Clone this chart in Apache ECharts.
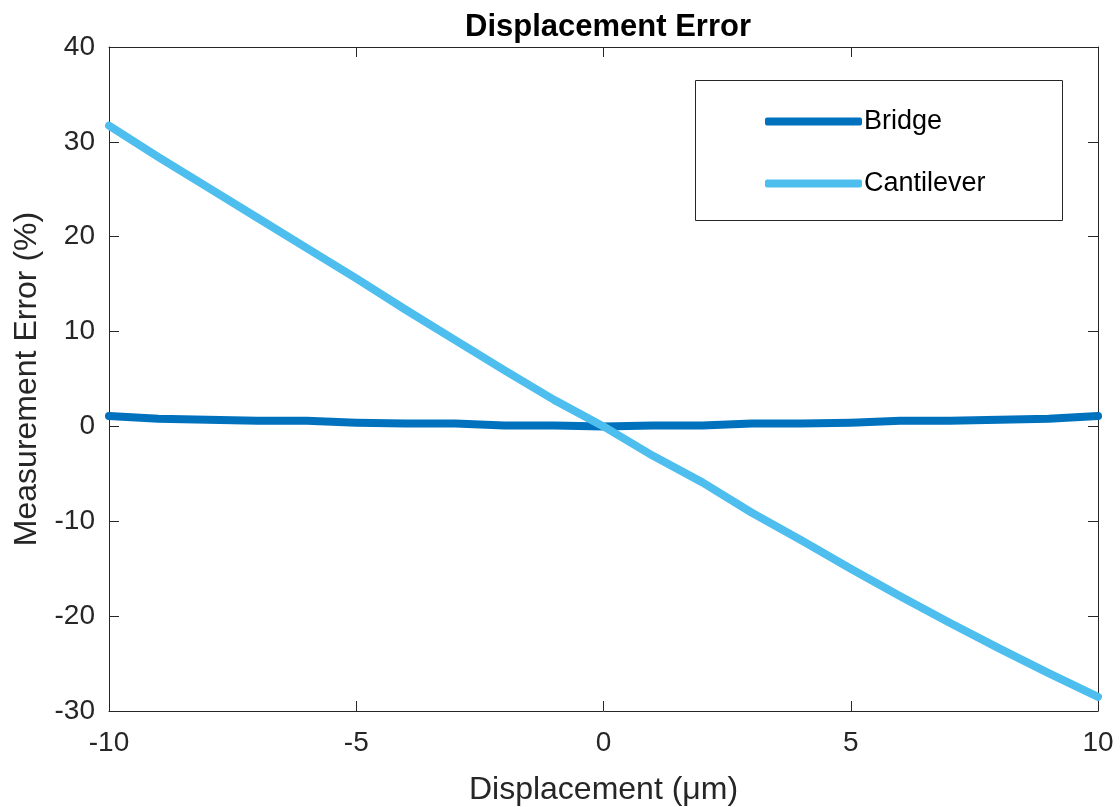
<!DOCTYPE html>
<html>
<head>
<meta charset="utf-8">
<script src="https://cdn.jsdelivr.net/npm/echarts@6/dist/echarts.min.js"></script>
<style>
  html, body { margin: 0; padding: 0; background: #fff; }
  #chart { width: 1120px; height: 807px; }
</style>
</head>
<body>
<div id="chart"></div>
<script>
// displacement steps (µm)
const displacement = [-10, -9, -8, -7, -6, -5, -4, -3, -2, -1, 0, 1, 2, 3, 4, 5, 6, 7, 8, 9, 10]
const bridgeError = [1.1, 0.8, 0.7, 0.6, 0.6, 0.4, 0.3, 0.3, 0.1, 0.1, 0, 0.1, 0.1, 0.3, 0.3, 0.4, 0.6, 0.6, 0.7, 0.8, 1.1]
const cantileverError = [31.7, 28.4, 25.2, 22.0, 18.8, 15.6, 12.3, 9.1, 5.9, 2.8, 0, -3.1, -5.9, -9.1, -12.0, -15.0, -17.9, -20.7, -23.4, -26.0, -28.5]
const xTicks = [-10, -5, 0, 5, 10]
const yTicks = [-30, -20, -10, 0, 10, 20, 30, 40]

const font = 'Liberation Sans, Arial, Helvetica, sans-serif'
const axisColor = '#262626'

const chart = echarts.init(document.getElementById('chart'), null, { renderer: 'canvas' })

const pairs = (ys) => displacement.map((x, i) => [x, ys[i]])

// shared style for the boxed MATLAB-like frame
const frameAxis = {
  axisLine: { show: true, onZero: false, lineStyle: { color: axisColor, width: 1 } },
  axisTick: { show: true, inside: true, length: 10, lineStyle: { color: axisColor } },
  splitLine: { show: false },
}

chart.setOption({
  backgroundColor: '#fff',
  animation: false,
  title: {
    text: 'Displacement Error',
    left: 603,
    top: 7,
    textAlign: 'center',
    textStyle: { fontFamily: font, fontSize: 31, fontWeight: 'bold', color: '#000' },
  },
  grid: { left: 109, right: 22, top: 47, bottom: 96, outerBoundsMode: 'none' },
  graphic: [
    {
      type: 'rect',
      left: 695,
      top: 80,
      shape: { width: 367, height: 140 },
      style: { fill: '#fff', stroke: axisColor, lineWidth: 1 },
      z: 10,
    },
  ],
  legend: {
    orient: 'vertical',
    left: 760,
    top: 103,
    itemWidth: 97,
    itemHeight: 8,
    itemGap: 35,
    icon: 'roundRect',
    z: 11,
    textStyle: { fontFamily: font, fontSize: 27, color: '#000', padding: [0, 0, 0, -3] },
    data: ['Bridge', 'Cantilever'],
  },
  xAxis: [
    {
      ...frameAxis,
      type: 'value',
      min: -10,
      max: 10,
      interval: 5,
      name: 'Displacement (μm)',
      nameLocation: 'middle',
      nameGap: 63,
      nameTextStyle: { fontFamily: font, fontSize: 32, color: axisColor },
      axisLabel: {
        fontFamily: font, fontSize: 28, color: axisColor, margin: 18,
        formatter: (v) => (xTicks.includes(v) ? String(v) : ''),
      },
    },
    {
      ...frameAxis,
      type: 'value',
      position: 'top',
      min: -10,
      max: 10,
      interval: 5,
      axisLabel: { show: false },
    },
  ],
  yAxis: [
    {
      ...frameAxis,
      type: 'value',
      min: -30,
      max: 40,
      interval: 10,
      name: 'Measurement Error (%)',
      nameLocation: 'middle',
      nameGap: 64,
      nameTextStyle: { fontFamily: font, fontSize: 32, color: axisColor },
      axisLabel: {
        fontFamily: font, fontSize: 28, color: axisColor, margin: 14,
        formatter: (v) => (yTicks.includes(v) ? String(v) : ''),
      },
    },
    {
      ...frameAxis,
      type: 'value',
      position: 'right',
      min: -30,
      max: 40,
      interval: 10,
      axisLabel: { show: false },
    },
  ],
  series: [
    {
      name: 'Bridge',
      type: 'line',
      data: pairs(bridgeError),
      symbol: 'none',
      itemStyle: { color: '#0072BD' },
      lineStyle: { color: '#0072BD', width: 8, cap: 'round', join: 'round' },
      z: 3,
    },
    {
      name: 'Cantilever',
      type: 'line',
      data: pairs(cantileverError),
      symbol: 'none',
      itemStyle: { color: '#4DBEEE' },
      lineStyle: { color: '#4DBEEE', width: 8, cap: 'round', join: 'round' },
      z: 4,
    },
  ],
})
</script>
</body>
</html>
